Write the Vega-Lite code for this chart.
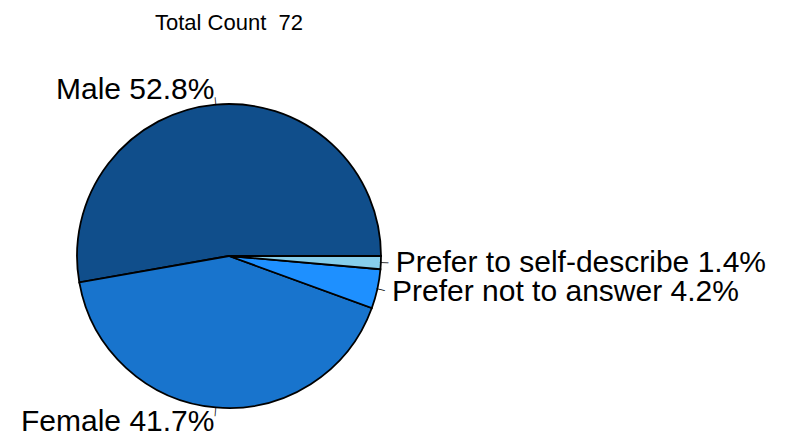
{
  "$schema": "https://vega.github.io/schema/vega-lite/v6.json",
  "width": 458,
  "height": 372,
  "autosize": {"type": "none"},
  "padding": {"left": 0, "top": 70, "right": 333, "bottom": 0},
  "background": "white",
  "view": {"stroke": null},
  "title": {"text": "Total Count\u00a0\u00a072", "font": "Liberation Sans", "fontSize": 22, "fontWeight": "normal", "color": "black", "anchor": "middle", "offset": 35},
  "data": {"values": [
    {"gender": "Male", "count": 38, "idx": 1, "label": "Male 52.8%"},
    {"gender": "Female", "count": 30, "idx": 2, "label": "Female 41.7%"},
    {"gender": "Prefer not to answer", "count": 3, "idx": 3, "label": "Prefer not to answer 4.2%"},
    {"gender": "Prefer to self-describe", "count": 1, "idx": 4, "label": "Prefer to self-describe 1.4%"}
  ]},
  "encoding": {
    "theta": {"field": "count", "type": "quantitative", "stack": true, "scale": {"range": [1.5707963, -4.712389]}},
    "order": {"field": "idx", "type": "quantitative"}
  },
  "layer": [
    {
      "mark": {"type": "arc", "outerRadius": 152, "stroke": "black", "strokeWidth": 1.8},
      "encoding": {
        "color": {"field": "gender", "type": "nominal", "legend": null,
          "scale": {"domain": ["Male", "Female", "Prefer not to answer", "Prefer to self-describe"], "range": ["#104E8B", "#1874CD", "#1E90FF", "#87CEEB"]}}
      }
    },
    {
      "mark": {"type": "text", "radius": 156, "align": "center", "baseline": "middle", "fontSize": 9, "font": "Liberation Sans", "color": "black"},
      "encoding": {
        "detail": {"field": "gender"},
        "text": {"value": "|"},
        "angle": {"condition": [
          {"test": "datum.gender === 'Male'", "value": 355},
          {"test": "datum.gender === 'Female'", "value": 5},
          {"test": "datum.gender === 'Prefer not to answer'", "value": 102.5}
        ], "value": 92.5}
      }
    },
    {
      "mark": {"type": "text", "radius": 167, "align": "right", "baseline": "middle", "fontSize": 30, "font": "Liberation Sans", "color": "black"},
      "encoding": {
        "detail": {"field": "gender"},
        "text": {"condition": {"test": "datum.idx <= 2", "field": "label"}, "value": ""}
      }
    },
    {
      "mark": {"type": "text", "radius": 167, "align": "left", "baseline": "middle", "fontSize": 30, "font": "Liberation Sans", "color": "black"},
      "encoding": {
        "detail": {"field": "gender"},
        "text": {"condition": {"test": "datum.idx > 2", "field": "label"}, "value": ""}
      }
    }
  ]
}
